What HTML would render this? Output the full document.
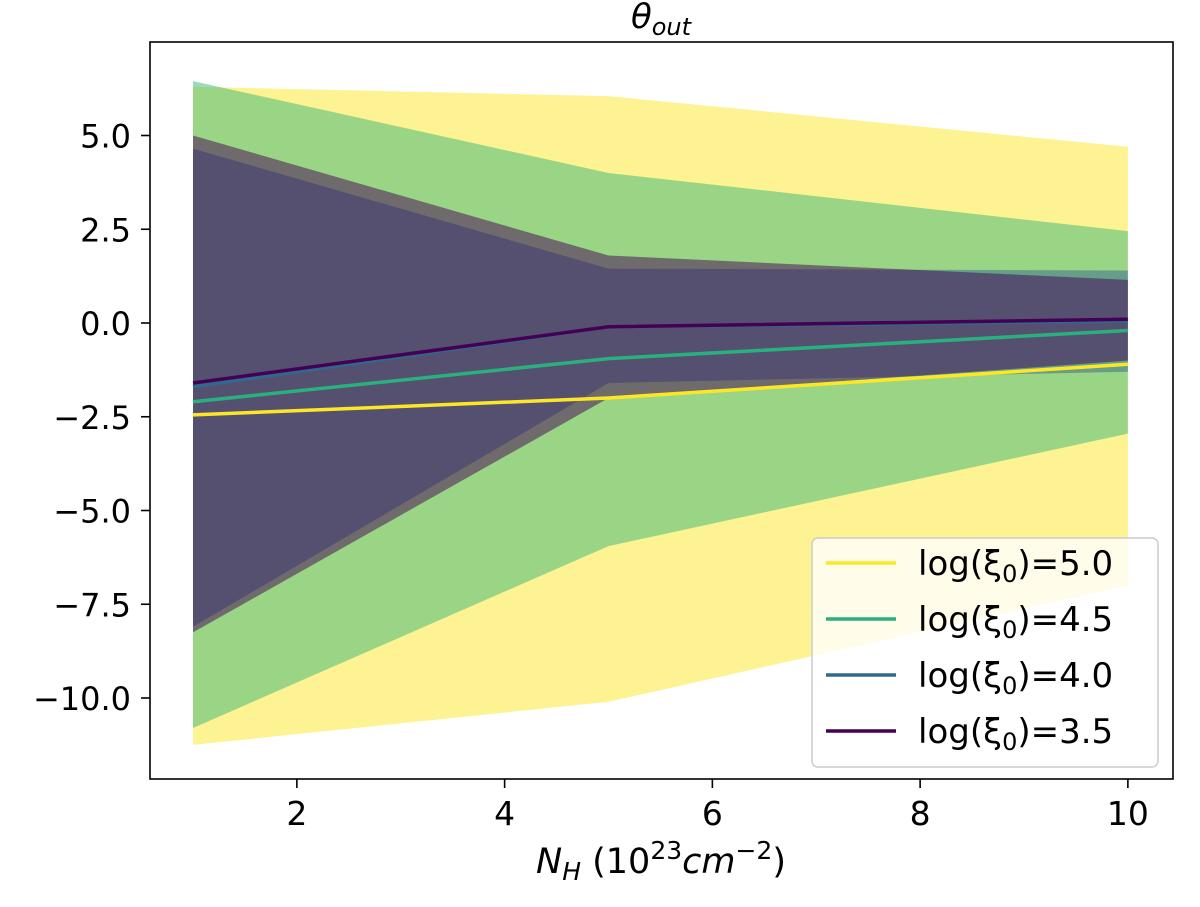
<!DOCTYPE html>
<html><head><meta charset="utf-8"><style>
body{margin:0;background:#fff;}
svg text{font-family:"DejaVu Sans","Liberation Sans",sans-serif;fill:#000;}
</style></head><body>
<svg id="chart" width="1200" height="902" xmlns="http://www.w3.org/2000/svg">
<g id="bands"></g>
<g id="lines"></g>
<rect x="150" y="42" width="1023" height="737" fill="none" stroke="#000" stroke-width="1.6"/>
<g id="xticks"></g>
<g id="yticks"></g>
<text x="661" y="28" font-size="34" text-anchor="middle" font-style="italic">θ<tspan font-size="24" dy="7">out</tspan></text>
<text x="661" y="873" font-size="35" text-anchor="middle"><tspan font-style="italic">N</tspan><tspan font-style="italic" font-size="25" dy="7">H</tspan><tspan dy="-7"> (10</tspan><tspan font-size="25" dy="-14">23</tspan><tspan font-style="italic" dy="14">cm</tspan><tspan font-size="25" dy="-14">−2</tspan><tspan dy="14">)</tspan></text>
<g id="legend">
<rect x="812" y="538" width="346" height="229" rx="6" fill="#fff" fill-opacity="0.8" stroke="#ccc" stroke-width="1.5"/>
</g>
</svg>
<script>
const xs = [1, 5, 10];
const labels = ["log(ξ0)=5.0","log(ξ0)=4.5","log(ξ0)=4.0","log(ξ0)=3.5"];
const colors = ["#fde725","#35b779","#31688e","#440154"];
const lineColors = ["#fde725","#2ab07f","#31688e","#440154"];
const mid5 = [-2.45,-2.0,-1.1];
const up5 = [6.3,6.05,4.7];
const lo5 = [-11.25,-10.1,-7.0];
const mid45 = [-2.1,-0.95,-0.2];
const up45 = [6.45,4.0,2.45];
const lo45 = [-10.8,-5.95,-2.95];
const mid40 = [-1.7,-0.1,0.05];
const up40 = [4.65,1.45,1.4];
const lo40 = [-8.1,-1.6,-1.3];
const mid35 = [-1.6,-0.1,0.1];
const up35 = [5.0,1.8,1.15];
const lo35 = [-8.25,-2.0,-1.0];
const xTicks = [2,4,6,8,10];
const yTicks = [5.0,2.5,0.0,-2.5,-5.0,-7.5,-10.0];
const yTickLabels = ["5.0","2.5","0.0","−2.5","−5.0","−7.5","−10.0"];

const X = v => 193 + (v-1)*103.875;
const Y = v => 323 - v*37.5;
const NS="http://www.w3.org/2000/svg";
const mids=[mid5,mid45,mid40,mid35], ups=[up5,up45,up40,up35], los=[lo5,lo45,lo40,lo35];
const names=["5-0","4-5","4-0","3-5"];
const bands=document.getElementById('bands'), lines=document.getElementById('lines');
for(let s=0;s<4;s++){
  let pts=xs.map((x,i)=>X(x)+','+Y(ups[s][i]));
  for(let i=xs.length-1;i>=0;i--) pts.push(X(xs[i])+','+Y(los[s][i]));
  const p=document.createElementNS(NS,'polygon');
  p.setAttribute('points',pts.join(' '));
  p.setAttribute('fill',colors[s]);p.setAttribute('fill-opacity','0.5');
  
  
  bands.appendChild(p);
}
for(let s=0;s<4;s++){
  const l=document.createElementNS(NS,'polyline');
  l.setAttribute('points',xs.map((x,i)=>X(x)+','+Y(mids[s][i])).join(' '));
  l.setAttribute('fill','none');l.setAttribute('stroke',lineColors[s]);l.setAttribute('stroke-width','3.5');
  
  
  lines.appendChild(l);
}
const xt=document.getElementById('xticks');
xTicks.forEach(v=>{
  const t=document.createElementNS(NS,'line');
  t.setAttribute('x1',X(v));t.setAttribute('x2',X(v));t.setAttribute('y1',779);t.setAttribute('y2',788);t.setAttribute('stroke','#000');t.setAttribute('stroke-width','1.6');
  
  
  xt.appendChild(t);
  const tx=document.createElementNS(NS,'text');
  tx.setAttribute('x',X(v));tx.setAttribute('y',825);tx.setAttribute('font-size','33');tx.setAttribute('text-anchor','middle');
  tx.textContent=v;
  
  
  xt.appendChild(tx);
});
const yt=document.getElementById('yticks');
yTicks.forEach((v,i)=>{
  const t=document.createElementNS(NS,'line');
  t.setAttribute('x1',141);t.setAttribute('x2',150);t.setAttribute('y1',Y(v));t.setAttribute('y2',Y(v));t.setAttribute('stroke','#000');t.setAttribute('stroke-width','1.6');
  
  
  yt.appendChild(t);
  const tx=document.createElementNS(NS,'text');
  tx.setAttribute('x',131);tx.setAttribute('y',Y(v)+12);tx.setAttribute('font-size','32');tx.setAttribute('text-anchor','end');
  tx.textContent=yTickLabels[i];
  
  
  yt.appendChild(tx);
});
const lg=document.getElementById('legend');
for(let s=0;s<4;s++){
  const y=563+s*56;
  const l=document.createElementNS(NS,'line');
  l.setAttribute('x1',826);l.setAttribute('x2',896);l.setAttribute('y1',y);l.setAttribute('y2',y);
  l.setAttribute('stroke',lineColors[s]);l.setAttribute('stroke-width','3.5');
  
  
  lg.appendChild(l);
  const t=document.createElementNS(NS,'text');
  t.setAttribute('x',918);t.setAttribute('y',y+12);t.setAttribute('font-size','34');
  const lab=labels[s];
  t.innerHTML='log(ξ<tspan font-size="24" dy="7">0</tspan><tspan dy="-7">)='+lab.split('=')[1]+'</tspan>';
  
  
  lg.appendChild(t);
}
</script>
</body></html>
